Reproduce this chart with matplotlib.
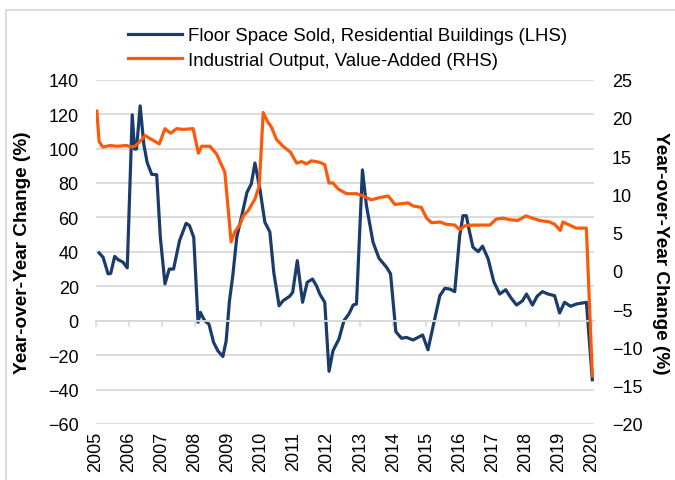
import matplotlib
matplotlib.use("Agg")
import matplotlib.pyplot as plt
from matplotlib.lines import Line2D
from matplotlib.transforms import blended_transform_factory

plt.rcParams['font.family'] = ['Liberation Sans', 'DejaVu Sans']

# floor space sold, residential (yoy %, left axis)
floor_t = [2005.11, 2005.23, 2005.38, 2005.46, 2005.58, 2005.68, 2005.83, 2005.96,
           2006.11, 2006.18, 2006.24, 2006.35, 2006.46, 2006.56, 2006.70, 2006.85, 2006.96,
           2007.10, 2007.23, 2007.36, 2007.54, 2007.74, 2007.84, 2007.97,
           2008.10, 2008.17, 2008.30, 2008.43, 2008.57, 2008.70, 2008.85, 2008.95,
           2009.05, 2009.15, 2009.27, 2009.41, 2009.58, 2009.71, 2009.82, 2009.97,
           2010.12, 2010.27, 2010.39, 2010.55, 2010.67, 2010.87, 2010.96,
           2011.10, 2011.26, 2011.40, 2011.56, 2011.68, 2011.78, 2011.93,
           2012.06, 2012.18, 2012.36, 2012.51, 2012.66, 2012.79, 2012.89,
           2013.07, 2013.19, 2013.39, 2013.57, 2013.80, 2013.92,
           2014.08, 2014.25, 2014.40, 2014.60, 2014.89,
           2015.05, 2015.21, 2015.41, 2015.56, 2015.71, 2015.86,
           2016.01, 2016.11, 2016.21, 2016.31, 2016.41, 2016.57, 2016.70, 2016.87,
           2017.04, 2017.22, 2017.40, 2017.57, 2017.73, 2017.91,
           2018.03, 2018.21, 2018.35, 2018.51, 2018.68, 2018.88,
           2019.03, 2019.18, 2019.36, 2019.54, 2019.84, 2020.02]
floor_v = [39.4, 36.8, 27.2, 27.5, 37.4, 35.5, 34.0, 30.7,
           119.6, 99.7, 99.7, 124.8, 102.6, 92.0, 85.0, 84.8, 48.4,
           21.4, 30.0, 30.0, 46.5, 56.6, 55.3, 48.4,
           -0.9, 4.8, 0.0, -2.0, -12.6, -17.5, -20.8, -11.7,
           11.6, 26.1, 48.4, 60.0, 74.6, 79.5, 91.6, 76.5,
           57.2, 51.6, 28.0, 8.7, 11.6, 14.2, 16.5,
           34.9, 10.7, 22.3, 24.2, 20.3, 15.5, 10.7,
           -29.4, -17.4, -10.6, 0.0, 3.9, 9.1, 9.7,
           87.6, 66.9, 45.6, 36.3, 31.0, 27.2,
           -6.4, -10.2, -9.7, -11.2, -8.3,
           -16.9, -2.9, 14.5, 18.8, 18.4, 16.9,
           49.4, 61.0, 61.0, 51.4, 42.7, 40.1, 43.3, 35.9,
           22.7, 15.5, 18.0, 13.0, 9.1, 11.6,
           15.5, 9.1, 14.2, 16.9, 15.5, 14.5,
           4.5, 10.7, 8.4, 9.7, 10.7, -34.3]

# industrial output value-added (yoy %, right axis)
ind_t = [2005.04, 2005.11, 2005.22, 2005.44, 2005.64, 2005.94, 2006.09, 2006.19,
         2006.34, 2006.50, 2006.65, 2006.93, 2007.10, 2007.27, 2007.45, 2007.65, 2007.95,
         2008.11, 2008.21, 2008.46, 2008.66, 2008.91, 2009.10, 2009.21, 2009.37,
         2009.47, 2009.62, 2009.82, 2009.95, 2010.07, 2010.19, 2010.32, 2010.47,
         2010.67, 2010.90, 2011.08, 2011.23, 2011.38, 2011.53, 2011.78, 2011.93,
         2012.06, 2012.18, 2012.34, 2012.59, 2012.89, 2013.09, 2013.34, 2013.60,
         2013.85, 2014.05, 2014.25, 2014.45, 2014.60, 2014.85, 2015.01, 2015.16,
         2015.41, 2015.61, 2015.86, 2016.01, 2016.16, 2016.41, 2016.92, 2017.12,
         2017.32, 2017.52, 2017.77, 2018.01, 2018.21, 2018.43, 2018.73, 2018.88,
         2019.05, 2019.13, 2019.33, 2019.53, 2019.84, 2020.02]
ind_v = [20.9, 16.9, 16.2, 16.4, 16.3, 16.4, 16.2, 16.3,
         16.9, 17.7, 17.3, 16.6, 18.6, 18.0, 18.6, 18.5, 18.6,
         15.4, 16.3, 16.3, 15.3, 12.9, 3.8, 5.1, 6.1,
         7.2, 7.9, 9.4, 11.1, 20.7, 19.6, 18.8, 17.2,
         16.3, 15.5, 14.1, 14.3, 14.0, 14.4, 14.2, 13.9,
         11.5, 11.5, 10.7, 10.1, 10.1, 9.8, 9.3, 9.6,
         9.8, 8.7, 8.8, 8.9, 8.5, 8.3, 6.9, 6.3,
         6.4, 6.1, 6.0, 5.4, 5.9, 6.0, 6.0, 6.8,
         6.9, 6.7, 6.6, 7.2, 6.9, 6.6, 6.4, 6.1,
         5.3, 6.4, 6.0, 5.6, 5.6, -13.7]

years = list(range(2005, 2021))
left_ticks = list(range(-60, 141, 20))
right_ticks = list(range(-20, 26, 5))

blue = '#1B3C6B'
orange = '#FA5A0A'
grid_c = '#D9D9D9'

fig = plt.figure(figsize=(6.75, 4.81), dpi=100)
ax = fig.add_axes([95.5 / 675, 1 - 425 / 481, 498.5 / 675, 344.3 / 481])
ax2 = ax.twinx()

ax.plot(floor_t, floor_v, color=blue, lw=2.3, solid_joinstyle='round',
        label='Floor Space Sold, Residential Buildings (LHS)')
ax2.plot(ind_t, ind_v, color=orange, lw=2.3, solid_joinstyle='round',
         label='Industrial Output, Value-Added (RHS)')

ax.set_xlim(2005, 2020.07)
ax.set_ylim(-60, 140)
ax2.set_ylim(-20, 25)
ax.set_yticks(left_ticks)
ax2.set_yticks(right_ticks)
ax.grid(axis='y', color=grid_c, lw=1.3)
ax.set_axisbelow(True)

for a in (ax, ax2):
    for s in ('left', 'right', 'top'):
        a.spines[s].set_visible(False)
ax2.spines['bottom'].set_visible(False)
ax.spines['bottom'].set_position(('data', 0))
ax.spines['bottom'].set_color(grid_c)
ax.spines['bottom'].set_linewidth(1.3)

ax.set_xticks(years)
ax.tick_params(axis='x', direction='out', length=4, width=1.2, color=grid_c,
               labelbottom=False)
ax.tick_params(axis='y', length=0, pad=12, labelsize=13)
ax2.tick_params(axis='y', length=0, pad=13, labelsize=13)

tr = blended_transform_factory(ax.transData, ax.transAxes)
for yr in years:
    ax.annotate(str(yr), xy=(yr, 0), xycoords=tr, xytext=(0, -5),
                textcoords='offset points', rotation=90, ha='center', va='top',
                fontsize=13)

ax.set_ylabel('Year-over-Year Change (%)', fontsize=13.7, fontweight='bold',
              va='center')
ax.yaxis.set_label_coords(-0.1474, 0.5)
ax2.set_ylabel('Year-over-Year Change (%)', fontsize=13.7, fontweight='bold',
               rotation=270, va='center')
ax2.yaxis.set_label_coords(1.1324, 0.5)

h1, l1 = ax.get_legend_handles_labels()
h2, l2 = ax2.get_legend_handles_labels()
fig.legend(h1 + h2, l1 + l2, loc='upper left', bbox_to_anchor=(128 / 675, 1 - 28 / 481),
           frameon=False, fontsize=13.4, handlelength=2.9, handletextpad=0.3,
           labelspacing=0.42, borderpad=0, borderaxespad=0)

# light frame around the chart area
fig.add_artist(Line2D([6 / 675, 6 / 675], [0, 1 - 11 / 481], color=grid_c, lw=1.3))
fig.add_artist(Line2D([6 / 675, 1], [1 - 11 / 481, 1 - 11 / 481], color=grid_c, lw=1.3))

fig.savefig('out.png', dpi=100)
